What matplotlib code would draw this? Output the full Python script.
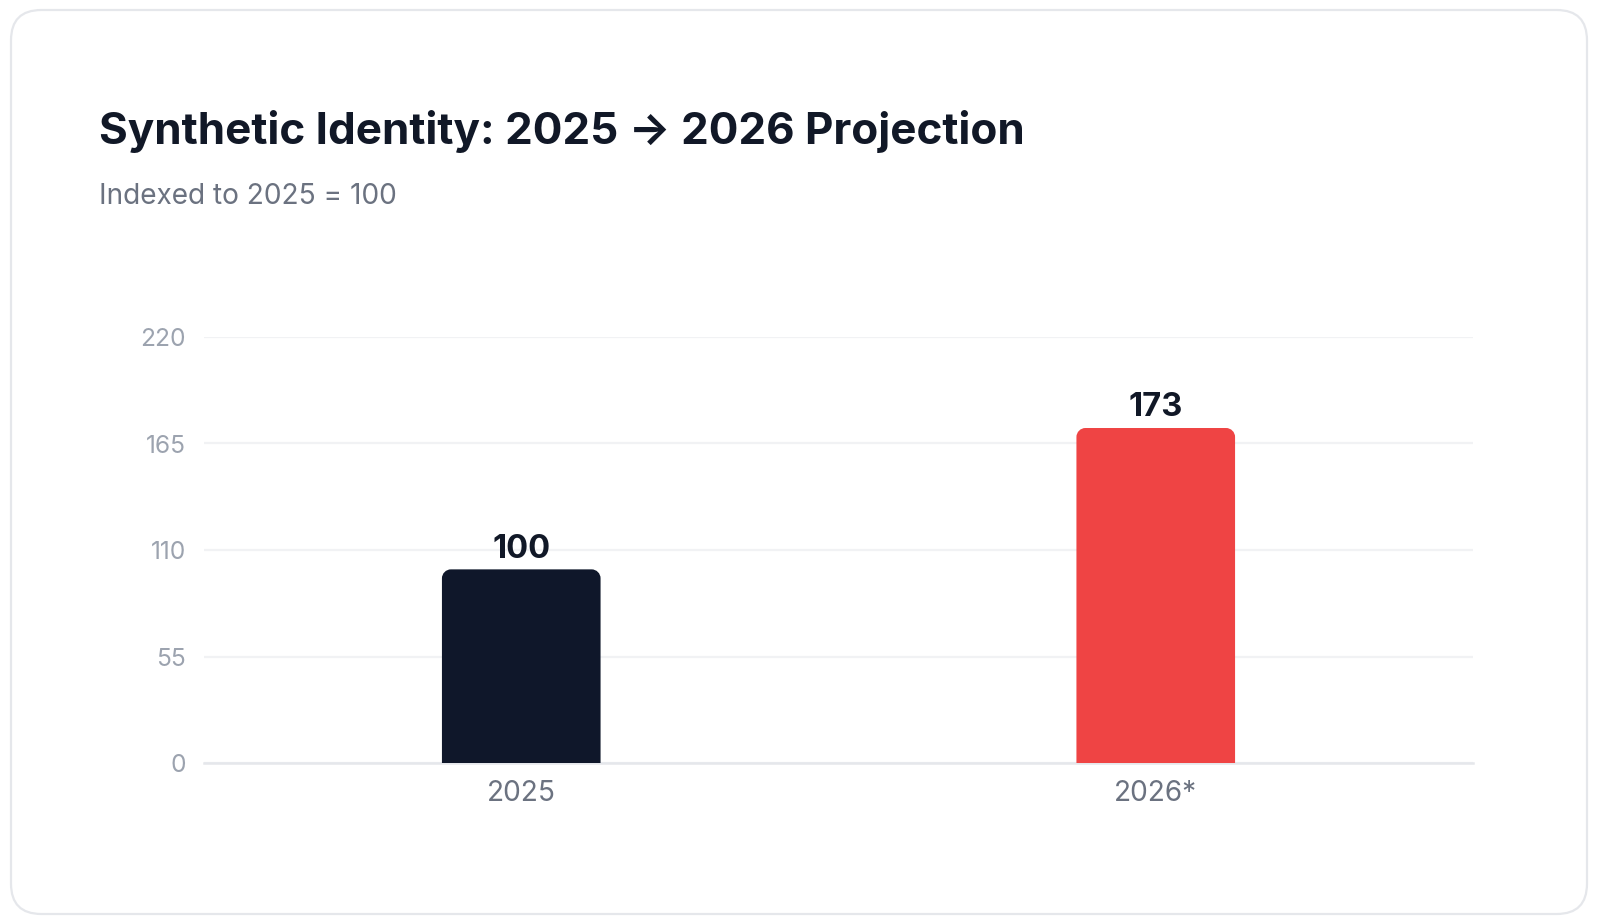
import matplotlib
matplotlib.use("Agg")
import matplotlib.pyplot as plt
from matplotlib.patches import FancyBboxPatch, PathPatch
from matplotlib.path import Path

plt.rcParams['font.family'] = ['Inter', 'DejaVu Sans']

# data
categories = ['2025', '2026*']
values = [100, 173]
bar_colors = ['#0f172a', '#ef4444']
y_ticks = [0, 55, 110, 165, 220]

W, H = 1598, 922
fig = plt.figure(figsize=(W / 100, H / 100), dpi=100)
fig.patch.set_facecolor('white')

# card background
card = FancyBboxPatch((11 / W, 8 / H), 1576 / W, 904 / H,
                      boxstyle="round,pad=0,rounding_size=0.019",
                      transform=fig.transFigure, facecolor='white',
                      edgecolor='#e5e7eb', linewidth=1.6,
                      mutation_aspect=W / H, zorder=-10)
fig.patches.append(card)

fig.text(99 / W, 1 - 144 / H, 'Synthetic Identity: 2025 \u2192 2026 Projection',
         fontsize=31.7, fontweight='bold', color='#111827', va='baseline')
fig.text(99 / W, 1 - 204 / H, 'Indexed to 2025 = 100',
         fontsize=20.2, color='#6b7280', va='baseline')

ax = fig.add_axes([204 / W, (H - 763) / H, 1269 / W, 426 / H])
ax.set_zorder(2)
ax.set_xlim(-0.5, 1.5)
ax.set_ylim(0, 220)
ax.set_facecolor('none')

bar_w = 0.25
px_x = 1269 / 2.0   # pixels per x unit
px_y = 426 / 220.0  # pixels per y unit
r_px = 9
rx, ry = r_px / px_x, r_px / px_y

def rounded_top_bar(x, h, w, color):
    x0, x1 = x - w / 2, x + w / 2
    k = 0.4477
    verts = [(x0, 0), (x0, h - ry),
             (x0, h - ry * k), (x0 + rx * k, h), (x0 + rx, h),
             (x1 - rx, h),
             (x1 - rx * k, h), (x1, h - ry * k), (x1, h - ry),
             (x1, 0), (x0, 0)]
    codes = [Path.MOVETO, Path.LINETO,
             Path.CURVE4, Path.CURVE4, Path.CURVE4,
             Path.LINETO,
             Path.CURVE4, Path.CURVE4, Path.CURVE4,
             Path.LINETO, Path.CLOSEPOLY]
    ax.add_patch(PathPatch(Path(verts, codes), facecolor=color,
                           edgecolor='none', zorder=3))

for i, (v, c) in enumerate(zip(values, bar_colors)):
    rounded_top_bar(i, v, bar_w, c)
    ax.annotate(str(v), (i, v), xytext=(0, 3.5), textcoords='offset points',
                ha='center', va='bottom', fontsize=23.5, fontweight='bold',
                color='#111827', zorder=4)

ax.set_yticks(y_ticks)
ax.set_xticks(range(len(categories)))
ax.set_xticklabels(categories)
ax.grid(axis='y', color='#f1f2f4', linewidth=1.6, zorder=0)
ax.set_axisbelow(True)
for s in ['top', 'right', 'left']:
    ax.spines[s].set_visible(False)
ax.spines['bottom'].set_color('#e5e7eb')
ax.spines['bottom'].set_linewidth(1.8)
ax.tick_params(axis='y', length=0, pad=13, labelsize=17.7, labelcolor='#9ca3af')
ax.tick_params(axis='x', length=0, pad=12.5, labelsize=20.2, labelcolor='#6b7280')

fig.savefig('out.png', dpi=100, facecolor='white')
